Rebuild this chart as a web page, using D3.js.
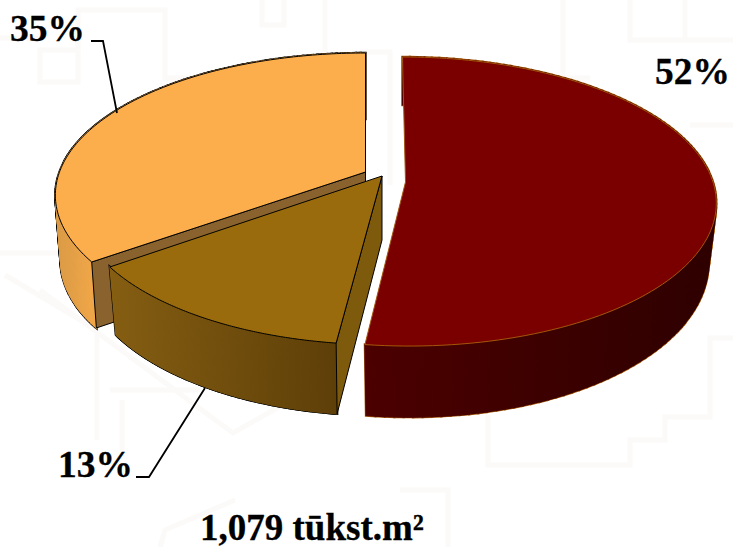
<!DOCTYPE html>
<html>
<head>
<meta charset="utf-8">
<script src="https://cdnjs.cloudflare.com/ajax/libs/d3/7.8.5/d3.min.js"></script>
<style>
  html, body { margin: 0; padding: 0; background: #fff; }
  svg { display: block; }
  text { font-family: "Liberation Serif", serif; font-weight: bold; fill: #000; stroke: #000; stroke-width: 0.3; }
</style>
</head>
<body>
<div id="chart"></div>
<script>
const sliceNames = ['red', 'brown', 'orange'];
const sliceValues = [52, 13, 35];
const totalLabel = '1,079 tūkst.m²';

const width = 733;
const height = 547;

// each slice is exploded, so it has its own apex and perspective
const sliceStyle = {
  red: {
    ox: 405.5, oy: 182, A: 307.5, B: 141.9, k: 0.135, shear: 0.0243, f: 0.975, g: 1.08, d: 58,
    top: '#7a0000', stroke: '#a4560a', face: '#3a0000',
    side: ['#4c0000', '#2e0000'], order: 1
  },
  brown: {
    ox: 382, oy: 176, A: 301, B: 138.5, k: 0.179, shear: 0, f: 0.978, g: 1.04, d: 64,
    top: '#9a6b0d', stroke: '#000', face: '#7e5a0c',
    side: ['#855e12', '#5e3f08'], order: 2
  },
  orange: {
    ox: 365.5, oy: 172, A: 306, B: 138.4, k: 0.163, shear: 0, f: 0.983, g: 1.0, d: 66,
    top: '#fbae4b', stroke: '#000', face: '#8a622e',
    side: ['#d99a45', '#f0a648'], order: 0
  }
};

// faint backdrop pattern of the slide
const backdrop = [
  'M40,82V50H78V82Z', 'M78,50V10H165V78H210', 'M0,38H40', 'M262,0V25H284V0',
  'M325,0V52', 'M360,52H390V185', 'M563,0V78H590', 'M630,0V40H733', 'M685,0V40',
  'M0,253H60', 'M5,275L97,330', 'M97,330V440', 'M110,390H200', 'M122,400V450',
  'M40,290L233,433L300,395', 'M160,547L165,530L235,500', 'M488,415V465H630V440H665V417H710V338H733',
  'M400,490H448V547', 'M690,125H733'
];

const svg = d3.select('#chart').append('svg')
  .attr('width', width)
  .attr('height', height);

svg.append('g')
  .attr('fill', 'none')
  .attr('stroke', '#fbfaf8')
  .attr('stroke-width', 5)
  .selectAll('path')
  .data(backdrop)
  .join('path')
  .attr('d', d => d);

const defs = svg.append('defs');
const line = d3.line();

const pie = d3.pie().sort(null).value(d => d.value);
const slices = pie(sliceNames.map((name, i) => ({ name, value: sliceValues[i] })));

// circle angle -> picture offset, perspective taken from the 3d pie
function topPoint(s, angle) {
  const u = Math.sin(angle);
  const v = -Math.cos(angle);
  const w = 1 - s.k * v;
  return [s.A * u / w, s.B * v / w];
}

function place(s, p, lower) {
  const x = s.ox + s.shear * p[1];
  return lower
    ? [x + p[0] * s.f, s.oy + p[1] * s.g + s.d]
    : [x + p[0], s.oy + p[1]];
}

function arcPoints(s, d) {
  return d3.range(0, 121).map(i => topPoint(s, d.startAngle + (d.endAngle - d.startAngle) * i / 120));
}

const groups = svg.append('g')
  .selectAll('g')
  .data(slices.slice().sort((a, b) => sliceStyle[a.data.name].order - sliceStyle[b.data.name].order))
  .join('g');

groups.each(function (d) {
  const s = sliceStyle[d.data.name];
  const g = d3.select(this);
  const arc = arcPoints(s, d);
  const upper = arc.map(p => place(s, p, false));
  const lower = arc.map(p => place(s, p, true));
  const gradId = 'side-' + d.data.name;

  const xRange = d3.extent(upper.filter(p => p[1] > s.oy), p => p[0]);
  const grad = defs.append('linearGradient')
    .attr('id', gradId)
    .attr('gradientUnits', 'userSpaceOnUse')
    .attr('x1', xRange[0])
    .attr('x2', xRange[1]);
  grad.append('stop').attr('offset', '0%').attr('stop-color', s.side[0]);
  grad.append('stop').attr('offset', '100%').attr('stop-color', s.side[1]);

  // outer wall as a strip of quads, so the silhouette stays straight
  const quads = d3.range(0, arc.length - 1).map(i => [upper[i], upper[i + 1], lower[i + 1], lower[i]]);
  g.append('g').selectAll('path').data(quads).join('path')
    .attr('d', q => line(q) + 'Z')
    .attr('fill', s.stroke)
    .attr('stroke', s.stroke)
    .attr('stroke-width', 2.4);
  g.append('g').selectAll('path').data(quads).join('path')
    .attr('d', q => line(q) + 'Z')
    .attr('fill', `url(#${gradId})`)
    .attr('stroke', `url(#${gradId})`)
    .attr('stroke-width', 1.2);

  // cut face turned to the viewer; red has none in view
  if (d.data.name !== 'red') {
    const c = [0, 0];
    const edge = arc[0];
    const face = [place(s, c, false), place(s, edge, false), place(s, edge, true), place(s, c, true)];
    g.append('path')
      .attr('d', line(face) + 'Z')
      .attr('fill', s.face)
      .attr('stroke', s.stroke)
      .attr('stroke-width', 1);
  }

  // top
  const top = [place(s, [0, 0], false)].concat(upper);
  g.append('path')
    .attr('d', line(top) + 'Z')
    .attr('fill', s.top)
    .attr('stroke', s.stroke)
    .attr('stroke-width', 1);
});

// leader lines
const leaders = svg.append('g').attr('fill', 'none').attr('stroke', '#000').attr('stroke-width', 1.8);
leaders.append('path').attr('d', 'M91,41H103L117,113');
leaders.append('path').attr('d', 'M136,477H149L205,388');

// labels
const labelPos = { orange: [10, 41], red: [655, 84], brown: [58, 477] };
svg.append('g')
  .selectAll('text')
  .data(slices)
  .join('text')
  .attr('x', d => labelPos[d.data.name][0])
  .attr('y', d => labelPos[d.data.name][1])
  .attr('font-size', 37.5)
  .text(d => d.data.value + '%');

svg.append('text')
  .attr('x', 200)
  .attr('y', 540)
  .attr('font-size', 37)
  .text(totalLabel);
</script>
</body>
</html>
